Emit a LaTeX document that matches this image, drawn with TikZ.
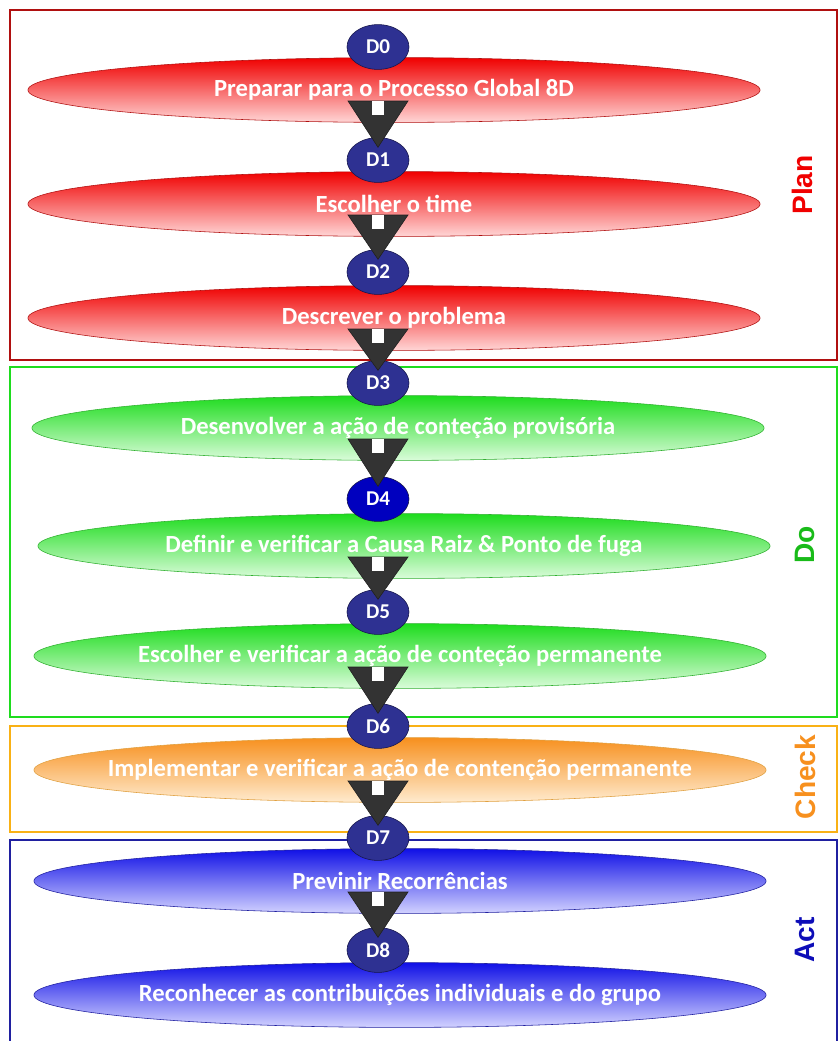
\documentclass[tikz,border=0pt]{standalone}
\usepackage{fontspec}
\setmainfont{Carlito}
\newfontfamily\phasefont{Liberation Sans}
\usepackage{tikz}
\usetikzlibrary{shapes.geometric, calc, positioning}
\usepackage{xcolor}
\definecolor{planRed}{HTML}{F00000}
\definecolor{planPale}{HTML}{FFD6D6}
\definecolor{planEdge}{HTML}{B01010}
\definecolor{doGreen}{HTML}{1EDC1E}
\definecolor{doPale}{HTML}{DAFCDA}
\definecolor{doEdge}{HTML}{30B030}
\definecolor{checkOrange}{HTML}{F7901E}
\definecolor{checkPale}{HTML}{FFEBCF}
\definecolor{checkEdge}{HTML}{E0A040}
\definecolor{actBlue}{HTML}{1010E6}
\definecolor{actPale}{HTML}{D2D2FF}
\definecolor{actEdge}{HTML}{2020A0}
\definecolor{navyFill}{HTML}{2E3192}
\definecolor{navyEdge}{HTML}{15154A}
\definecolor{arrowGray}{HTML}{333333}

% block arrow from a task ellipse down into the next step circle
\newcommand{\stepArrow}[2]{%
  \draw[arrowGray!60!black, fill=arrowGray] ($(#2.north |- #1.center)+(-30,11)$) -- ($(#2.north |- #1.center)+(30,11)$) -- ($(#2.north)+(0,10)$) -- cycle;
  \fill[white] ($(#2.north |- #1.center)+(-6,11)$) rectangle ($(#2.north |- #1.center)+(6,25)$);
}

\begin{document}
\begin{tikzpicture}[
    x=0.025cm, y=-0.025cm,
    stepcirc/.style={ellipse, draw=navyEdge, fill=navyFill, minimum width=1.55cm, minimum height=1.12cm, inner sep=0pt, text=white, font=\bfseries\fontsize{15}{15}\selectfont},
    task/.style={ellipse, inner xsep=-60pt, inner ysep=0pt, minimum width=18.3cm, minimum height=1.62cm, text=white, font=\bfseries\fontsize{17.5}{17.5}\selectfont},
    planTask/.style={task, draw=planEdge, top color=planRed, middle color=planRed, bottom color=planPale},
    doTask/.style={task, draw=doEdge, top color=doGreen, middle color=doGreen, bottom color=doPale},
    checkTask/.style={task, draw=checkEdge, top color=checkOrange, middle color=checkOrange, bottom color=checkPale},
    actTask/.style={task, draw=actEdge, top color=actBlue, middle color=actBlue, bottom color=actPale},
    phase/.style={rotate=90, font=\phasefont\bfseries\fontsize{20}{20}\selectfont},
    frame/.style={line width=1.5pt},
]
    \useasboundingbox (0,0) rectangle (839,1041);

    % phase frames
    \draw[frame, planEdge] (10,10) rectangle (837,360);
    \draw[frame, doGreen] (10,367) rectangle (837,717);
    \draw[frame, checkOrange!70!yellow] (10,726) rectangle (837,832);
    \draw[frame, actEdge] (10,840) rectangle (837,1060);

    % task ellipses
    \node[planTask] (e0) at (394,90) {Preparar para o Processo Global 8D};
    \node[planTask] (e1) at (394,204) {Escolher o time};
    \node[planTask] (e2) at (394,318) {Descrever o problema};
    \node[doTask] (e3) at (398,428) {Desenvolver a ação de conteção provisória};
    \node[doTask] (e4) at (404,546) {Definir e verificar a Causa Raiz \& Ponto de fuga};
    \node[doTask] (e5) at (400,656) {Escolher e verificar a ação de conteção permanente};
    \node[checkTask] (e6) at (400,770) {Implementar e verificar a ação de contenção permanente};
    \node[actTask] (e7) at (400,881) {Previnir Recorrências};
    \node[actTask] (e8) at (400,995) {Reconhecer as contribuições individuais e do grupo};

    % step circles
    \node[stepcirc] (d0) at (378,47) {D0};
    \node[stepcirc] (d1) at (378,160) {D1};
    \node[stepcirc] (d2) at (378,272) {D2};
    \node[stepcirc] (d3) at (378,383) {D3};
    \node[stepcirc, fill=blue!75!black] (d4) at (378,499) {D4};
    \node[stepcirc] (d5) at (378,612) {D5};
    \node[stepcirc] (d6) at (378,726) {D6};
    \node[stepcirc] (d7) at (378,838) {D7};
    \node[stepcirc] (d8) at (378,950) {D8};

    \stepArrow{e0}{d1}
    \stepArrow{e1}{d2}
    \stepArrow{e2}{d3}
    \stepArrow{e3}{d4}
    \stepArrow{e4}{d5}
    \stepArrow{e5}{d6}
    \stepArrow{e6}{d7}
    \stepArrow{e7}{d8}

    % phase labels
    \node[phase, text=planRed] (plan) at (802,185) {Plan};
    \node[phase, text=doGreen!85!black] (do) at (805,545) {Do};
    \node[phase, text=checkOrange] (check) at (805,777) {Check};
    \node[phase, text=actBlue!80!black] (act) at (805,940) {Act};
\end{tikzpicture}
\end{document}
